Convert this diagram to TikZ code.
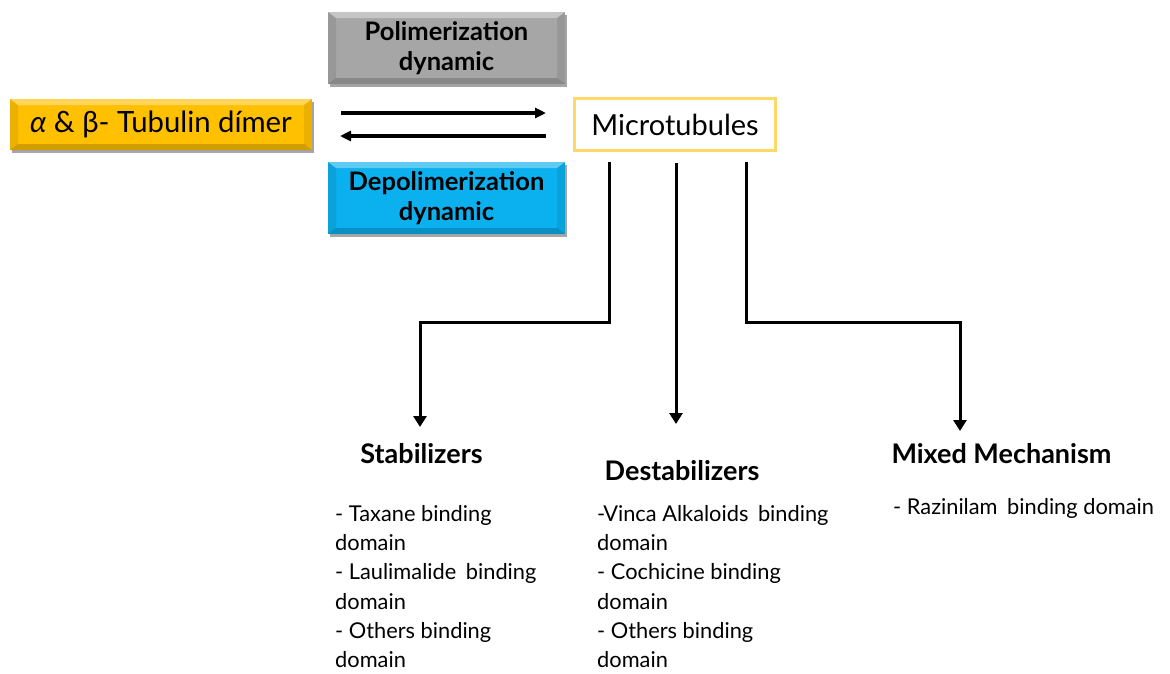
\documentclass[tikz,border=0pt]{standalone}
\usepackage{fontspec}
\setmainfont{Lato}
\usetikzlibrary{arrows.meta,shadows,calc}

\definecolor{goldbox}{HTML}{FFC000}
\definecolor{greybox}{HTML}{A6A6A6}
\definecolor{bluebox}{HTML}{0BB0EE}
\definecolor{mtborder}{HTML}{FFD966}

\tikzset{
  bevel/.style={fill=#1, inner sep=0pt,
    drop shadow={shadow xshift=1.5pt, shadow yshift=-2.5pt, opacity=.35, fill=black},
    path picture={
      \fill[white, opacity=.35] (path picture bounding box.north west) -- (path picture bounding box.north east)
        -- ([shift={(-8pt,-6pt)}]path picture bounding box.north east) -- ([shift={(8pt,-6pt)}]path picture bounding box.north west) -- cycle;
      \fill[black, opacity=.08] (path picture bounding box.north west) -- ([shift={(8pt,-6pt)}]path picture bounding box.north west)
        -- ([shift={(8pt,6pt)}]path picture bounding box.south west) -- (path picture bounding box.south west) -- cycle;
      \fill[black, opacity=.08] (path picture bounding box.north east) -- ([shift={(-8pt,-6pt)}]path picture bounding box.north east)
        -- ([shift={(-8pt,6pt)}]path picture bounding box.south east) -- (path picture bounding box.south east) -- cycle;
      \fill[black, opacity=.18] (path picture bounding box.south west) -- (path picture bounding box.south east)
        -- ([shift={(-8pt,6pt)}]path picture bounding box.south east) -- ([shift={(8pt,6pt)}]path picture bounding box.south west) -- cycle;
    }},
  dynbox/.style={bevel=#1, minimum width=237pt, minimum height=72pt, align=center,
    font=\fontsize{25.5}{30}\selectfont\bfseries},
  conn/.style={line width=3pt, -{Triangle[length=11pt,width=13pt]}},
  head/.style={anchor=base, inner sep=0pt, font=\fontsize{27}{30}\selectfont\bfseries},
  items/.style={anchor=north west, inner sep=0pt, align=left, font=\fontsize{21.8}{29.3}\selectfont},
}

\begin{document}
\begin{tikzpicture}[x=1pt,y=-1pt]
\useasboundingbox (0,0) rectangle (1170,673);

%Shape: Tubulin dimer box
\node [bevel=goldbox, minimum width=302pt, minimum height=51pt, font=\fontsize{29.3}{30}\selectfont] (dimer) at (161,124.5) {\textit{α} \& β- Tubulin dímer\hspace{15pt}};
%Shape: Microtubules box
\node [draw=mtborder, line width=3pt, fill=white, minimum width=201pt, minimum height=52pt, font=\fontsize{29}{30}\selectfont] (micro) at (675,124.5) {Microtubules};

%Shape: dynamics
\node [dynbox=greybox] (pol) at (446.5,48) {Polimerization\\dynamic};
\node [dynbox=bluebox] (depol) at (446.5,198) {Depolimerization\\dynamic};

%Double arrow
\coordinate (polstart) at (341,113);
\coordinate (polend) at (546,113);
\coordinate (depstart) at (546,136);
\coordinate (depend) at (340,136);
\draw [line width=3.2pt, -{Triangle[length=11pt,width=10pt]}] (polstart) -- (polend);
\draw [line width=3.2pt, -{Triangle[length=11pt,width=10pt]}] (depstart) -- (depend);

% Text Node
\node [head] (stab) at (421.5,463) {Stabilizers};
\node [head] (destab) at (682,480) {Destabilizers};
\node [head] (mixed) at (1001.5,463) {Mixed Mechanism};

% Text Node
\node [items] (stablist) at (335,505) {- Taxane binding\\domain\\- Laulimalide\hspace{4pt} binding\\domain\\- Others binding\\domain};
\node [items] (destablist) at (597,505) {-\hspace{-2pt}Vinca Alkaloids\hspace{4pt} binding\\domain\\- Cochicine binding\\domain\\- Others binding\\domain};
\node [items] (mixedlist) at (893,498) {- Razinilam\hspace{4pt} binding domain};

%Connectors
\coordinate (stabtip) at (420,427);
\coordinate (destabtip) at (676,424);
\coordinate (mixedtip) at (960,431);
\draw [conn] ([xshift=-66pt,yshift=-10pt]micro.south) |- ($(stabtip)+(0,-105)$) -- (stabtip);
\draw [conn] ([xshift=1pt,yshift=-11pt]micro.south) -- (destabtip);
\draw [conn] ([xshift=71pt,yshift=-10pt]micro.south) |- ($(mixedtip)+(0,-109)$) -- (mixedtip);

\end{tikzpicture}
\end{document}
